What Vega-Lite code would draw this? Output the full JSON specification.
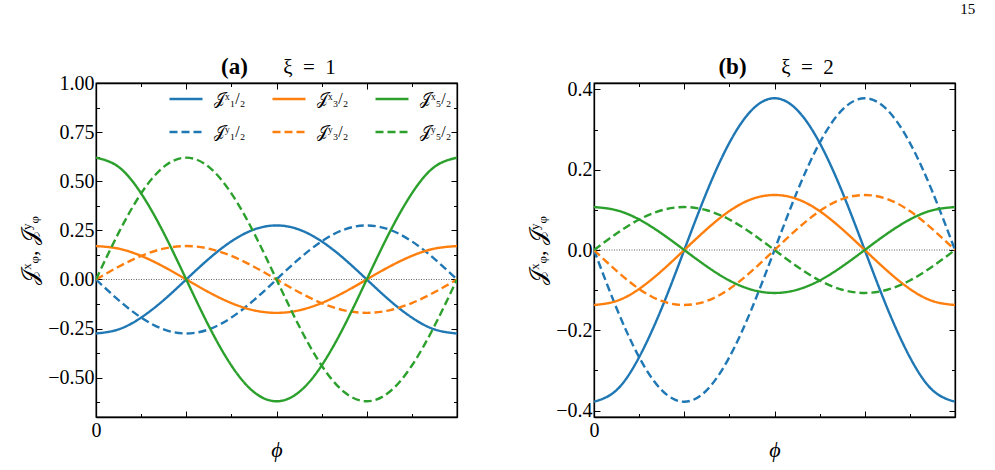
{
 "$schema": "https://vega.github.io/schema/vega-lite/v6.json",
 "background": "white",
 "padding": {"left": 18, "top": 2, "right": 5, "bottom": 0},
 "title": {"text": "15", "anchor": "end", "fontSize": 15, "fontWeight": "normal", "font": "Liberation Serif", "color": "black", "dx": 19, "offset": 37},
 "datasets": {
  "d": [
   {"panel":"a","series":"x1","phi":0,"J":-0.275},{"panel":"a","series":"x1","phi":22.5,"J":-0.254},{"panel":"a","series":"x1","phi":45,"J":-0.194},{"panel":"a","series":"x1","phi":67.5,"J":-0.105},{"panel":"a","series":"x1","phi":90,"J":0},{"panel":"a","series":"x1","phi":112.5,"J":0.105},{"panel":"a","series":"x1","phi":135,"J":0.194},{"panel":"a","series":"x1","phi":157.5,"J":0.254},{"panel":"a","series":"x1","phi":180,"J":0.275},{"panel":"a","series":"x1","phi":202.5,"J":0.254},{"panel":"a","series":"x1","phi":225,"J":0.194},{"panel":"a","series":"x1","phi":247.5,"J":0.105},{"panel":"a","series":"x1","phi":270,"J":0},{"panel":"a","series":"x1","phi":292.5,"J":-0.105},{"panel":"a","series":"x1","phi":315,"J":-0.194},{"panel":"a","series":"x1","phi":337.5,"J":-0.254},{"panel":"a","series":"x1","phi":360,"J":-0.275},
   {"panel":"a","series":"y1","phi":0,"J":0},{"panel":"a","series":"y1","phi":22.5,"J":-0.105},{"panel":"a","series":"y1","phi":45,"J":-0.194},{"panel":"a","series":"y1","phi":67.5,"J":-0.254},{"panel":"a","series":"y1","phi":90,"J":-0.275},{"panel":"a","series":"y1","phi":112.5,"J":-0.254},{"panel":"a","series":"y1","phi":135,"J":-0.194},{"panel":"a","series":"y1","phi":157.5,"J":-0.105},{"panel":"a","series":"y1","phi":180,"J":0},{"panel":"a","series":"y1","phi":202.5,"J":0.105},{"panel":"a","series":"y1","phi":225,"J":0.194},{"panel":"a","series":"y1","phi":247.5,"J":0.254},{"panel":"a","series":"y1","phi":270,"J":0.275},{"panel":"a","series":"y1","phi":292.5,"J":0.254},{"panel":"a","series":"y1","phi":315,"J":0.194},{"panel":"a","series":"y1","phi":337.5,"J":0.105},{"panel":"a","series":"y1","phi":360,"J":0},
   {"panel":"a","series":"x3","phi":0,"J":0.17},{"panel":"a","series":"x3","phi":22.5,"J":0.157},{"panel":"a","series":"x3","phi":45,"J":0.12},{"panel":"a","series":"x3","phi":67.5,"J":0.065},{"panel":"a","series":"x3","phi":90,"J":0},{"panel":"a","series":"x3","phi":112.5,"J":-0.065},{"panel":"a","series":"x3","phi":135,"J":-0.12},{"panel":"a","series":"x3","phi":157.5,"J":-0.157},{"panel":"a","series":"x3","phi":180,"J":-0.17},{"panel":"a","series":"x3","phi":202.5,"J":-0.157},{"panel":"a","series":"x3","phi":225,"J":-0.12},{"panel":"a","series":"x3","phi":247.5,"J":-0.065},{"panel":"a","series":"x3","phi":270,"J":0},{"panel":"a","series":"x3","phi":292.5,"J":0.065},{"panel":"a","series":"x3","phi":315,"J":0.12},{"panel":"a","series":"x3","phi":337.5,"J":0.157},{"panel":"a","series":"x3","phi":360,"J":0.17},
   {"panel":"a","series":"y3","phi":0,"J":0},{"panel":"a","series":"y3","phi":22.5,"J":0.065},{"panel":"a","series":"y3","phi":45,"J":0.12},{"panel":"a","series":"y3","phi":67.5,"J":0.157},{"panel":"a","series":"y3","phi":90,"J":0.17},{"panel":"a","series":"y3","phi":112.5,"J":0.157},{"panel":"a","series":"y3","phi":135,"J":0.12},{"panel":"a","series":"y3","phi":157.5,"J":0.065},{"panel":"a","series":"y3","phi":180,"J":0},{"panel":"a","series":"y3","phi":202.5,"J":-0.065},{"panel":"a","series":"y3","phi":225,"J":-0.12},{"panel":"a","series":"y3","phi":247.5,"J":-0.157},{"panel":"a","series":"y3","phi":270,"J":-0.17},{"panel":"a","series":"y3","phi":292.5,"J":-0.157},{"panel":"a","series":"y3","phi":315,"J":-0.12},{"panel":"a","series":"y3","phi":337.5,"J":-0.065},{"panel":"a","series":"y3","phi":360,"J":0},
   {"panel":"a","series":"x5","phi":0,"J":0.62},{"panel":"a","series":"x5","phi":22.5,"J":0.573},{"panel":"a","series":"x5","phi":45,"J":0.438},{"panel":"a","series":"x5","phi":67.5,"J":0.237},{"panel":"a","series":"x5","phi":90,"J":0},{"panel":"a","series":"x5","phi":112.5,"J":-0.237},{"panel":"a","series":"x5","phi":135,"J":-0.438},{"panel":"a","series":"x5","phi":157.5,"J":-0.573},{"panel":"a","series":"x5","phi":180,"J":-0.62},{"panel":"a","series":"x5","phi":202.5,"J":-0.573},{"panel":"a","series":"x5","phi":225,"J":-0.438},{"panel":"a","series":"x5","phi":247.5,"J":-0.237},{"panel":"a","series":"x5","phi":270,"J":0},{"panel":"a","series":"x5","phi":292.5,"J":0.237},{"panel":"a","series":"x5","phi":315,"J":0.438},{"panel":"a","series":"x5","phi":337.5,"J":0.573},{"panel":"a","series":"x5","phi":360,"J":0.62},
   {"panel":"a","series":"y5","phi":0,"J":0},{"panel":"a","series":"y5","phi":22.5,"J":0.237},{"panel":"a","series":"y5","phi":45,"J":0.438},{"panel":"a","series":"y5","phi":67.5,"J":0.573},{"panel":"a","series":"y5","phi":90,"J":0.62},{"panel":"a","series":"y5","phi":112.5,"J":0.573},{"panel":"a","series":"y5","phi":135,"J":0.438},{"panel":"a","series":"y5","phi":157.5,"J":0.237},{"panel":"a","series":"y5","phi":180,"J":0},{"panel":"a","series":"y5","phi":202.5,"J":-0.237},{"panel":"a","series":"y5","phi":225,"J":-0.438},{"panel":"a","series":"y5","phi":247.5,"J":-0.573},{"panel":"a","series":"y5","phi":270,"J":-0.62},{"panel":"a","series":"y5","phi":292.5,"J":-0.573},{"panel":"a","series":"y5","phi":315,"J":-0.438},{"panel":"a","series":"y5","phi":337.5,"J":-0.237},{"panel":"a","series":"y5","phi":360,"J":0},
   {"panel":"b","series":"x1","phi":0,"J":-0.378},{"panel":"b","series":"x1","phi":22.5,"J":-0.349},{"panel":"b","series":"x1","phi":45,"J":-0.267},{"panel":"b","series":"x1","phi":67.5,"J":-0.145},{"panel":"b","series":"x1","phi":90,"J":0},{"panel":"b","series":"x1","phi":112.5,"J":0.145},{"panel":"b","series":"x1","phi":135,"J":0.267},{"panel":"b","series":"x1","phi":157.5,"J":0.349},{"panel":"b","series":"x1","phi":180,"J":0.378},{"panel":"b","series":"x1","phi":202.5,"J":0.349},{"panel":"b","series":"x1","phi":225,"J":0.267},{"panel":"b","series":"x1","phi":247.5,"J":0.145},{"panel":"b","series":"x1","phi":270,"J":0},{"panel":"b","series":"x1","phi":292.5,"J":-0.145},{"panel":"b","series":"x1","phi":315,"J":-0.267},{"panel":"b","series":"x1","phi":337.5,"J":-0.349},{"panel":"b","series":"x1","phi":360,"J":-0.378},
   {"panel":"b","series":"y1","phi":0,"J":0},{"panel":"b","series":"y1","phi":22.5,"J":-0.145},{"panel":"b","series":"y1","phi":45,"J":-0.267},{"panel":"b","series":"y1","phi":67.5,"J":-0.349},{"panel":"b","series":"y1","phi":90,"J":-0.378},{"panel":"b","series":"y1","phi":112.5,"J":-0.349},{"panel":"b","series":"y1","phi":135,"J":-0.267},{"panel":"b","series":"y1","phi":157.5,"J":-0.145},{"panel":"b","series":"y1","phi":180,"J":0},{"panel":"b","series":"y1","phi":202.5,"J":0.145},{"panel":"b","series":"y1","phi":225,"J":0.267},{"panel":"b","series":"y1","phi":247.5,"J":0.349},{"panel":"b","series":"y1","phi":270,"J":0.378},{"panel":"b","series":"y1","phi":292.5,"J":0.349},{"panel":"b","series":"y1","phi":315,"J":0.267},{"panel":"b","series":"y1","phi":337.5,"J":0.145},{"panel":"b","series":"y1","phi":360,"J":0},
   {"panel":"b","series":"x3","phi":0,"J":-0.137},{"panel":"b","series":"x3","phi":22.5,"J":-0.127},{"panel":"b","series":"x3","phi":45,"J":-0.097},{"panel":"b","series":"x3","phi":67.5,"J":-0.052},{"panel":"b","series":"x3","phi":90,"J":0},{"panel":"b","series":"x3","phi":112.5,"J":0.052},{"panel":"b","series":"x3","phi":135,"J":0.097},{"panel":"b","series":"x3","phi":157.5,"J":0.127},{"panel":"b","series":"x3","phi":180,"J":0.137},{"panel":"b","series":"x3","phi":202.5,"J":0.127},{"panel":"b","series":"x3","phi":225,"J":0.097},{"panel":"b","series":"x3","phi":247.5,"J":0.052},{"panel":"b","series":"x3","phi":270,"J":0},{"panel":"b","series":"x3","phi":292.5,"J":-0.052},{"panel":"b","series":"x3","phi":315,"J":-0.097},{"panel":"b","series":"x3","phi":337.5,"J":-0.127},{"panel":"b","series":"x3","phi":360,"J":-0.137},
   {"panel":"b","series":"y3","phi":0,"J":0},{"panel":"b","series":"y3","phi":22.5,"J":-0.052},{"panel":"b","series":"y3","phi":45,"J":-0.097},{"panel":"b","series":"y3","phi":67.5,"J":-0.127},{"panel":"b","series":"y3","phi":90,"J":-0.137},{"panel":"b","series":"y3","phi":112.5,"J":-0.127},{"panel":"b","series":"y3","phi":135,"J":-0.097},{"panel":"b","series":"y3","phi":157.5,"J":-0.052},{"panel":"b","series":"y3","phi":180,"J":0},{"panel":"b","series":"y3","phi":202.5,"J":0.052},{"panel":"b","series":"y3","phi":225,"J":0.097},{"panel":"b","series":"y3","phi":247.5,"J":0.127},{"panel":"b","series":"y3","phi":270,"J":0.137},{"panel":"b","series":"y3","phi":292.5,"J":0.127},{"panel":"b","series":"y3","phi":315,"J":0.097},{"panel":"b","series":"y3","phi":337.5,"J":0.052},{"panel":"b","series":"y3","phi":360,"J":0},
   {"panel":"b","series":"x5","phi":0,"J":0.107},{"panel":"b","series":"x5","phi":22.5,"J":0.099},{"panel":"b","series":"x5","phi":45,"J":0.076},{"panel":"b","series":"x5","phi":67.5,"J":0.041},{"panel":"b","series":"x5","phi":90,"J":0},{"panel":"b","series":"x5","phi":112.5,"J":-0.041},{"panel":"b","series":"x5","phi":135,"J":-0.076},{"panel":"b","series":"x5","phi":157.5,"J":-0.099},{"panel":"b","series":"x5","phi":180,"J":-0.107},{"panel":"b","series":"x5","phi":202.5,"J":-0.099},{"panel":"b","series":"x5","phi":225,"J":-0.076},{"panel":"b","series":"x5","phi":247.5,"J":-0.041},{"panel":"b","series":"x5","phi":270,"J":0},{"panel":"b","series":"x5","phi":292.5,"J":0.041},{"panel":"b","series":"x5","phi":315,"J":0.076},{"panel":"b","series":"x5","phi":337.5,"J":0.099},{"panel":"b","series":"x5","phi":360,"J":0.107},
   {"panel":"b","series":"y5","phi":0,"J":0},{"panel":"b","series":"y5","phi":22.5,"J":0.041},{"panel":"b","series":"y5","phi":45,"J":0.076},{"panel":"b","series":"y5","phi":67.5,"J":0.099},{"panel":"b","series":"y5","phi":90,"J":0.107},{"panel":"b","series":"y5","phi":112.5,"J":0.099},{"panel":"b","series":"y5","phi":135,"J":0.076},{"panel":"b","series":"y5","phi":157.5,"J":0.041},{"panel":"b","series":"y5","phi":180,"J":0},{"panel":"b","series":"y5","phi":202.5,"J":-0.041},{"panel":"b","series":"y5","phi":225,"J":-0.076},{"panel":"b","series":"y5","phi":247.5,"J":-0.099},{"panel":"b","series":"y5","phi":270,"J":-0.107},{"panel":"b","series":"y5","phi":292.5,"J":-0.099},{"panel":"b","series":"y5","phi":315,"J":-0.076},{"panel":"b","series":"y5","phi":337.5,"J":-0.041},{"panel":"b","series":"y5","phi":360,"J":0}
  ]
 },
 "bounds": "flush",
 "spacing": 137,
 "resolve": {"scale": {"x": "independent", "y": "independent"}, "legend": {"color": "independent", "strokeDash": "independent"}},
 "hconcat": [
  {
   "width": 361, "height": 334,
   "title": {"text": "ξ\u2002=\u20021", "dx": 33, "baseline": "alphabetic", "offset": -40, "fontSize": 21, "fontWeight": "normal"},
   "resolve": {"axis": {"x": "independent", "y": "independent"}},
   "layer": [
    {
     "data": {"values": [{}]},
     "mark": {"type": "rule", "color": "black", "strokeWidth": 0.8, "strokeDash": [1, 1.5], "opacity": 0.8},
     "encoding": {
      "x": {"datum": 0, "type": "quantitative", "scale": {"domain": [0, 360], "nice": false},
            "axis": {"orient": "top", "values": [0,45,90,135,180,225,270,315,360], "labels": false,
                     "tickSize": {"condition": {"test": "datum.value % 90 == 0", "value": -6}, "value": -3.5},
                     "title": "(a)", "titleFontWeight": "bold", "titleFontSize": 23, "titleX": 138, "titleY": -10, "titleBaseline": "alphabetic", "titleAlign": "center", "titleAngle": 0}},
      "x2": {"datum": 360},
      "y": {"datum": 0, "type": "quantitative", "scale": {"domain": [-0.7, 1.0], "nice": false, "zero": false},
            "axis": {"orient": "right", "values": [-0.625,-0.5,-0.375,-0.25,-0.125,0,0.125,0.25,0.375,0.5,0.625,0.75,0.875,1.0], "labels": false,
                     "tickSize": {"condition": {"test": "(datum.value*4) % 1 == 0", "value": -6}, "value": -3.5}, "title": null}}
     }
    },
    {
     "data": {"name": "d"},
     "transform": [{"filter": "datum.panel == 'a'"}],
     "mark": {"type": "line", "strokeWidth": 2.4, "interpolate": "natural", "clip": true},
     "encoding": {
      "x": {"field": "phi", "type": "quantitative", "scale": {"domain": [0, 360], "nice": false},
            "axis": {"orient": "bottom", "values": [0,45,90,135,180,225,270,315,360], "labelExpr": "datum.value == 0 ? '0' : ''", "labelFlush": false, "labelOverlap": false, "labelPadding": 9,
                     "tickSize": {"condition": {"test": "datum.value % 90 == 0", "value": -6}, "value": -3.5},
                     "title": "ϕ", "titleFontStyle": "italic", "titleFontSize": 22, "titlePadding": -3}},
      "y": {"field": "J", "type": "quantitative", "scale": {"domain": [-0.7, 1.0], "nice": false, "zero": false},
            "axis": {"orient": "left", "values": [-0.625,-0.5,-0.375,-0.25,-0.125,0,0.125,0.25,0.375,0.5,0.625,0.75,0.875,1.0],
                     "labelExpr": "(datum.value*4) % 1 == 0 ? format(datum.value, '.2f') : ''", "labelFlush": false, "labelOverlap": false, "labelPadding": 8,
                     "tickSize": {"condition": {"test": "(datum.value*4) % 1 == 0", "value": -6}, "value": -3.5},
                     "title": "𝒥ˣᵩ, 𝒥ʸᵩ", "titleFontSize": 22, "titlePadding": 6}},
      "color": {"field": "series", "type": "nominal",
                "scale": {"domain": ["x1","y1","x3","y3","x5","y5"], "range": ["#1f77b4","#1f77b4","#ff7f0e","#ff7f0e","#2ca02c","#2ca02c"]},
                "legend": {"orient": "none", "legendX": 72, "legendY": -2, "columns": 3, "title": null, "gridAlign": "all",
                           "labelExpr": "datum.label == 'x1' ? '𝒥ˣ₁/₂' : datum.label == 'x3' ? '𝒥ˣ₃/₂' : datum.label == 'x5' ? '𝒥ˣ₅/₂' : datum.label == 'y1' ? '𝒥ʸ₁/₂' : datum.label == 'y3' ? '𝒥ʸ₃/₂' : '𝒥ʸ₅/₂'"}},
      "strokeDash": {"field": "series", "type": "nominal",
                "scale": {"domain": ["x1","y1","x3","y3","x5","y5"], "range": [[1,0],[8,4],[1,0],[8,4],[1,0],[8,4]]},
                "legend": {"orient": "none", "legendX": 72, "legendY": -2, "columns": 3, "title": null, "gridAlign": "all",
                           "labelExpr": "datum.label == 'x1' ? '𝒥ˣ₁/₂' : datum.label == 'x3' ? '𝒥ˣ₃/₂' : datum.label == 'x5' ? '𝒥ˣ₅/₂' : datum.label == 'y1' ? '𝒥ʸ₁/₂' : datum.label == 'y3' ? '𝒥ʸ₃/₂' : '𝒥ʸ₅/₂'"}}
     }
    }
   ]
  },
  {
   "width": 361, "height": 334,
   "title": {"text": "ξ\u2002=\u20022", "dx": 33, "baseline": "alphabetic", "offset": -40, "fontSize": 21, "fontWeight": "normal"},
   "resolve": {"axis": {"x": "independent", "y": "independent"}},
   "layer": [
    {
     "data": {"values": [{}]},
     "mark": {"type": "rule", "color": "black", "strokeWidth": 0.8, "strokeDash": [1, 1.5], "opacity": 0.8},
     "encoding": {
      "x": {"datum": 0, "type": "quantitative", "scale": {"domain": [0, 360], "nice": false},
            "axis": {"orient": "top", "values": [0,45,90,135,180,225,270,315,360], "labels": false,
                     "tickSize": {"condition": {"test": "datum.value % 90 == 0", "value": -6}, "value": -3.5},
                     "title": "(b)", "titleFontWeight": "bold", "titleFontSize": 23, "titleX": 138, "titleY": -10, "titleBaseline": "alphabetic", "titleAlign": "center", "titleAngle": 0}},
      "x2": {"datum": 360},
      "y": {"datum": 0, "type": "quantitative", "scale": {"domain": [-0.416, 0.416], "nice": false, "zero": false},
            "axis": {"orient": "right", "values": [-0.4,-0.3,-0.2,-0.1,0,0.1,0.2,0.3,0.4], "labels": false,
                     "tickSize": {"condition": {"test": "abs(datum.value*5 - round(datum.value*5)) < 0.001", "value": -6}, "value": -3.5}, "title": null}}
     }
    },
    {
     "data": {"name": "d"},
     "transform": [{"filter": "datum.panel == 'b'"}],
     "mark": {"type": "line", "strokeWidth": 2.4, "interpolate": "natural", "clip": true},
     "encoding": {
      "x": {"field": "phi", "type": "quantitative", "scale": {"domain": [0, 360], "nice": false},
            "axis": {"orient": "bottom", "values": [0,45,90,135,180,225,270,315,360], "labelExpr": "datum.value == 0 ? '0' : ''", "labelFlush": false, "labelOverlap": false, "labelPadding": 9,
                     "tickSize": {"condition": {"test": "datum.value % 90 == 0", "value": -6}, "value": -3.5},
                     "title": "ϕ", "titleFontStyle": "italic", "titleFontSize": 22, "titlePadding": -3}},
      "y": {"field": "J", "type": "quantitative", "scale": {"domain": [-0.416, 0.416], "nice": false, "zero": false},
            "axis": {"orient": "left", "values": [-0.4,-0.3,-0.2,-0.1,0,0.1,0.2,0.3,0.4],
                     "labelExpr": "abs(datum.value*5 - round(datum.value*5)) < 0.001 ? format(datum.value, '.1f') : ''", "labelFlush": false, "labelOverlap": false, "labelPadding": 8,
                     "tickSize": {"condition": {"test": "abs(datum.value*5 - round(datum.value*5)) < 0.001", "value": -6}, "value": -3.5},
                     "title": "𝒥ˣᵩ, 𝒥ʸᵩ", "titleFontSize": 22, "titlePadding": 6}},
      "color": {"field": "series", "type": "nominal",
                "scale": {"domain": ["x1","y1","x3","y3","x5","y5"], "range": ["#1f77b4","#1f77b4","#ff7f0e","#ff7f0e","#2ca02c","#2ca02c"]},
                "legend": null},
      "strokeDash": {"field": "series", "type": "nominal",
                "scale": {"domain": ["x1","y1","x3","y3","x5","y5"], "range": [[1,0],[8,4],[1,0],[8,4],[1,0],[8,4]]},
                "legend": null}
     }
    }
   ]
  }
 ],
 "config": {
  "font": "Liberation Serif",
  "view": {"stroke": "black", "strokeWidth": 1.3},
  "axis": {"domainColor": "black", "domainWidth": 1.3, "tickColor": "black", "tickWidth": 1, "labelFont": "Liberation Serif", "labelFontSize": 20, "labelColor": "black", "titleFont": "Liberation Serif", "titleColor": "black", "titleFontWeight": "normal", "grid": false},
  "legend": {"symbolType": "stroke", "symbolStrokeWidth": 2.4, "symbolSize": 1089, "labelFont": "Liberation Serif", "labelFontSize": 16, "labelColor": "black", "labelOffset": 10, "columnPadding": 21, "rowPadding": 7, "padding": 0},
  "title": {"font": "Liberation Serif", "color": "black", "fontWeight": "normal"}
 }
}
